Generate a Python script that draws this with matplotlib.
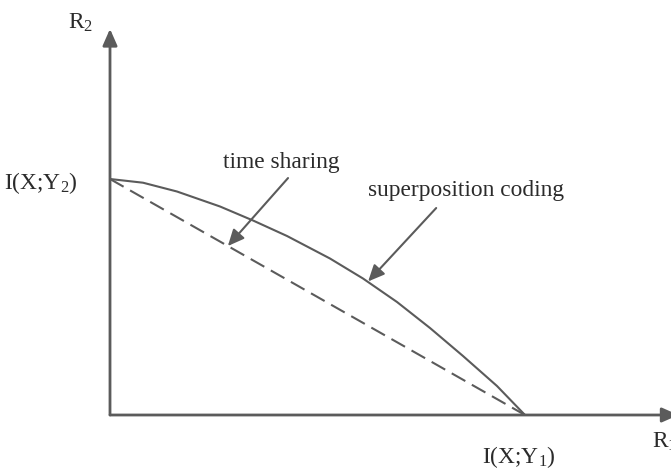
import numpy as np
import matplotlib
matplotlib.use("Agg")
from matplotlib import pyplot as plt

plt.rcParams['font.family'] = ['Liberation Serif', 'DejaVu Serif']
plt.rcParams['mathtext.fontset'] = 'custom'
plt.rcParams['mathtext.rm'] = 'Liberation Serif'

# rate region boundary, normalised so I(X;Y1) = 1 on R1 and I(X;Y2) = 1 on R2
r1_sc = [0.0, 0.0795, 0.1614, 0.2651, 0.3446, 0.4265, 0.5301, 0.6096, 0.6916, 0.7711, 0.8506, 0.9325, 1.0]
r2_sc = [1.0, 0.9843, 0.9470, 0.8835, 0.8242, 0.7585, 0.6631, 0.5784, 0.4788, 0.3686, 0.2500, 0.1229, 0.0]
r1_ts = [0.0, 1.0]
r2_ts = [1.0, 0.0]

gris = '#5b5b5b'
texto = '#2b2b2b'

fig = plt.figure(figsize=(6.71, 4.68), dpi=100)
ax = fig.add_axes([110/671, 53/468, 415/671, 236/468])
ax.set_xlim(0, 1)
ax.set_ylim(0, 1)
ax.axis('off')

# ejes con flecha
ax.annotate('', xy=(0, 1.636), xytext=(0, 0), xycoords='data',
            arrowprops=dict(arrowstyle='-|>,head_length=0.5,head_width=0.22',
                            color=gris, lw=2.0, mutation_scale=20,
                            shrinkA=0, shrinkB=0), annotation_clip=False)
ax.annotate('', xy=(1.37, 0), xytext=(0, 0), xycoords='data',
            arrowprops=dict(arrowstyle='-|>,head_length=0.5,head_width=0.22',
                            color=gris, lw=2.0, mutation_scale=20,
                            shrinkA=0, shrinkB=0), annotation_clip=False)

ax.plot(r1_sc, r2_sc, color=gris, lw=1.5, clip_on=False,
        solid_capstyle='round', solid_joinstyle='round')
ax.plot(r1_ts, r2_ts, color=gris, lw=1.5, linestyle=(0, (7.5, 3.6)), clip_on=False)

flecha = dict(arrowstyle='-|>,head_length=0.55,head_width=0.25', color=gris,
              lw=1.5, mutation_scale=18, shrinkA=0, shrinkB=0)
ax.annotate('', xy=(0.284, 0.716), xytext=(0.429, 1.004), arrowprops=flecha,
            annotation_clip=False)
ax.annotate('', xy=(0.622, 0.566), xytext=(0.786, 0.877), arrowprops=flecha,
            annotation_clip=False)

fs = 16.8
ax.text(0.414, 1.068, 'time sharing', ha='center', va='center', fontsize=fs, color=texto)
ax.text(0.858, 0.953, 'superposition coding', ha='center', va='center', fontsize=fs, color=texto)
ax.text(-0.077, 0.985, r'I(X;Y$_\mathregular{2}$)', ha='right', va='center', fontsize=fs, color=texto)
ax.text(0.986, -0.18, r'I(X;Y$_\mathregular{1}$)', ha='center', va='center', fontsize=fs, color=texto)
ax.text(1.306, -0.114, r'R$_\mathregular{1}$', ha='left', va='center', fontsize=fs, color=texto)
ax.text(-0.072, 1.665, r'R$_\mathregular{2}$', ha='center', va='center', fontsize=fs, color=texto)

fig.savefig('out.png', dpi=100)
